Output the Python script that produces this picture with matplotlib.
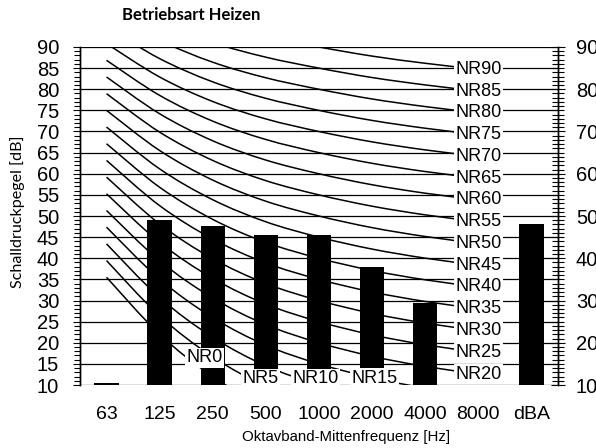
import numpy as np
import matplotlib
matplotlib.use('Agg')
import matplotlib.pyplot as plt
from matplotlib.path import Path
from matplotlib.patches import PathPatch
from matplotlib.ticker import MultipleLocator

# octave bands + total level
freq_labels = ['63', '125', '250', '500', '1000', '2000', '4000', '8000', 'dBA']
levels = [10.5, 49.0, 47.7, 45.5, 45.4, 38.0, 29.4, np.nan, 48.1]

# NR curve coefficients (L = a + b * NR) for 63 ... 8000 Hz
nr_a = [35.5, 22.0, 12.0, 4.8, 0.0, -3.5, -6.1, -8.0]
nr_b = [0.790, 0.870, 0.930, 0.974, 1.000, 1.015, 1.025, 1.030]
nr_values = [0, 5, 10, 15, 20, 25, 30, 35, 40, 45, 50, 55, 60, 65, 70, 75, 80, 85, 90]

# where the low NR labels sit (curve end is below the axis)
low_label_pos = {0: (1.85, 16.4), 5: (2.9, 11.5), 10: (3.93, 11.5), 15: (5.05, 11.6)}

plt.rcParams['font.family'] = 'Liberation Sans'

fig = plt.figure(figsize=(5.96, 4.48), dpi=100)
ax = fig.add_axes([0.1342, 0.1406, 0.8018, 0.7545])

x = np.arange(len(freq_labels))

# grid
for g in range(10, 95, 5):
    ax.axhline(g, color='black', lw=0.9, zorder=1)


def smooth_path(px, py):
    # excel style smoothed line as cubic bezier segments
    pts = np.column_stack([px, py])
    verts = [pts[0]]
    codes = [Path.MOVETO]
    n = len(pts)
    for i in range(n - 1):
        p0 = pts[max(i - 1, 0)]
        p1 = pts[i]
        p2 = pts[i + 1]
        p3 = pts[min(i + 2, n - 1)]
        c1 = p1 + (p2 - p0) / 6.0
        c2 = p2 - (p3 - p1) / 6.0
        verts += [c1, c2, p2]
        codes += [Path.CURVE4] * 3
    return Path(verts, codes)


a = np.array(nr_a)
b = np.array(nr_b)
for nr in nr_values:
    curve = a + b * nr
    ax.add_patch(PathPatch(smooth_path(x[:8], curve), fill=False, ec='black', lw=1.1, zorder=2))
    if nr in low_label_pos:
        lx, ly = low_label_pos[nr]
    else:
        lx, ly = 7, curve[-1]
    ax.text(lx, ly, 'NR%d' % nr, fontsize=13, ha='center', va='center', zorder=5,
            bbox=dict(boxstyle='square,pad=0.08', fc='white', ec='none'))

ax.bar(x, levels, width=0.46, color='black', zorder=3)

ax.set_xlim(-0.5, 8.5)
ax.set_ylim(10, 90)
ax.set_xticks(x)
ax.set_xticklabels(freq_labels, fontsize=14)
ax.tick_params(axis='x', length=0, pad=15)

ax.yaxis.set_major_locator(MultipleLocator(5))
ax.yaxis.set_minor_locator(MultipleLocator(1))
ax.tick_params(axis='y', which='major', labelsize=14.5, length=5, width=0.8, pad=10, direction='out')
ax.tick_params(axis='y', which='minor', length=4, width=0.8, direction='out')

ax2 = ax.twinx()
ax2.set_ylim(10, 90)
ax2.yaxis.set_major_locator(MultipleLocator(10))
ax2.yaxis.set_minor_locator(MultipleLocator(1))
ax2.tick_params(axis='y', which='major', labelsize=14.5, length=10, width=0.8, pad=8, direction='inout')
ax2.tick_params(axis='y', which='minor', length=8, width=0.8, direction='inout')

for axis in (ax, ax2):
    axis.spines['top'].set_visible(False)
    axis.spines['bottom'].set_visible(False)
    axis.spines['left'].set_linewidth(1.0)
    axis.spines['right'].set_linewidth(1.0)

fig.text(0.03, 0.527, 'Schalldruckpegel [dB]', rotation=90, ha='center', va='center',
         fontsize=11.6, family='Lato')
fig.text(0.58, 0.024, 'Oktavband-Mittenfrequenz [Hz]', ha='center', va='center', fontsize=10.8)
fig.text(0.205, 0.966, 'Betriebsart Heizen', ha='left', va='center', fontsize=12,
         family='Lato', fontweight='bold')

fig.savefig('out.png', dpi=100)
